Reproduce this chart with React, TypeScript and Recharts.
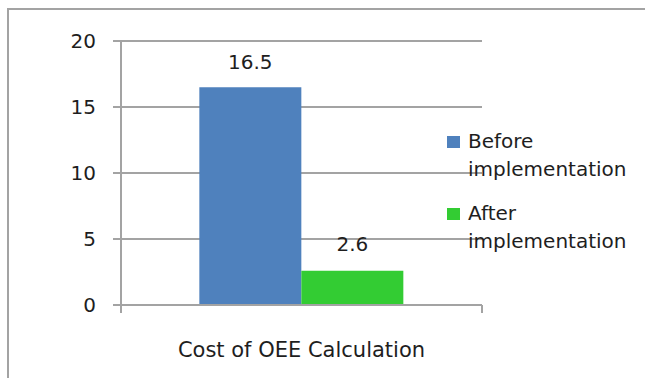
import React from "react";
import { BarChart, Bar, XAxis, YAxis, CartesianGrid, Legend, LabelList } from "recharts";

const categories = ["Cost of OEE Calculation"];
const beforeValues = [16.5];
const afterValues = [2.6];
const yTicks = [0, 5, 10, 15, 20];
const seriesNames = ["Before implementation", "After implementation"];

const data = categories.map((name, i) => ({
  name,
  before: beforeValues[i],
  after: afterValues[i],
}));

const FONT = "'DejaVu Sans', Verdana, sans-serif";
const GRAY = "#a3a3a3";
const TEXT = "#1e1e1e";
const BLUE = "#4f81bd";
const GREEN = "#33cc33";

// Category tick: label centred on the band, small marks at both band edges
const CategoryTick = (props: any) => {
  const { x, y, payload, width } = props;
  const half = payload && payload.offset ? payload.offset : width / 2;
  return (
    <g>
      <line x1={x - half} y1={y - 8} x2={x - half} y2={y} stroke={GRAY} strokeWidth={2} />
      <line x1={x + half} y1={y - 8} x2={x + half} y2={y} stroke={GRAY} strokeWidth={2} />
      <text x={x} y={y + 44} textAnchor="middle" fill={TEXT} fontSize={21} fontFamily={FONT}>
        {payload.value}
      </text>
    </g>
  );
};

// Legend keeps the series order (before, then after)
const LegendContent = (props: any) => {
  const items = [...(props.payload || [])].sort(
    (a: any, b: any) => seriesNames.indexOf(a.value) - seriesNames.indexOf(b.value)
  );
  return (
    <div style={{ fontFamily: FONT, fontSize: 20, color: TEXT }}>
      {items.map((entry: any, i: number) => (
        <div key={i} style={{ position: "relative", height: 72 }}>
          <div
            style={{
              position: "absolute",
              left: 0,
              top: 9,
              width: 13,
              height: 12,
              background: entry.color,
            }}
          />
          <div
            style={{
              position: "absolute",
              left: 21,
              top: 0,
              width: 170,
              lineHeight: "28px",
              textAlign: "left",
              whiteSpace: "normal",
            }}
          >
            {entry.value}
          </div>
        </div>
      ))}
    </div>
  );
};

export default function App() {
  return (
    <div style={{ position: "absolute", left: 0, top: 0, width: 645, height: 378, background: "#fff", overflow: "hidden" }}>
      <div
        style={{
          position: "absolute",
          left: 7,
          top: 8,
          width: 700,
          height: 400,
          borderLeft: `2px solid ${GRAY}`,
          borderTop: `2px solid ${GRAY}`,
        }}
      />
      <div style={{ position: "absolute", left: 0, top: 0 }}>
        <BarChart
          width={645}
          height={378}
          data={data}
          margin={{ top: 41, right: 163, bottom: 0, left: 0 }}
          barCategoryGap="21.7%"
          barGap={0}
        >
          <CartesianGrid vertical={false} stroke={GRAY} strokeWidth={2} />
          <XAxis
            dataKey="name"
            height={73}
            axisLine={{ stroke: GRAY, strokeWidth: 2 }}
            tickLine={false}
            tickSize={8}
            tickMargin={0}
            tick={<CategoryTick />}
            interval={0}
          />
          <YAxis
            width={121}
            domain={[0, 20]}
            ticks={yTicks}
            interval={0}
            axisLine={{ stroke: GRAY, strokeWidth: 2 }}
            tickLine={{ stroke: GRAY, strokeWidth: 2 }}
            tickSize={8}
            tickMargin={17}
            tick={{ fill: TEXT, fontSize: 20, fontFamily: FONT }}
          />
          <Legend
            layout="horizontal"
            verticalAlign="middle"
            align="center"
            wrapperStyle={{ left: 447, top: 127, width: 195 }}
            content={<LegendContent />}
          />
          <Bar dataKey="before" name={seriesNames[0]} fill={BLUE} isAnimationActive={false}>
            <LabelList dataKey="before" position="top" offset={18} fill={TEXT} fontSize={20} fontFamily={FONT} />
          </Bar>
          <Bar dataKey="after" name={seriesNames[1]} fill={GREEN} isAnimationActive={false}>
            <LabelList dataKey="after" position="top" offset={20} fill={TEXT} fontSize={20} fontFamily={FONT} />
          </Bar>
        </BarChart>
      </div>
    </div>
  );
}
